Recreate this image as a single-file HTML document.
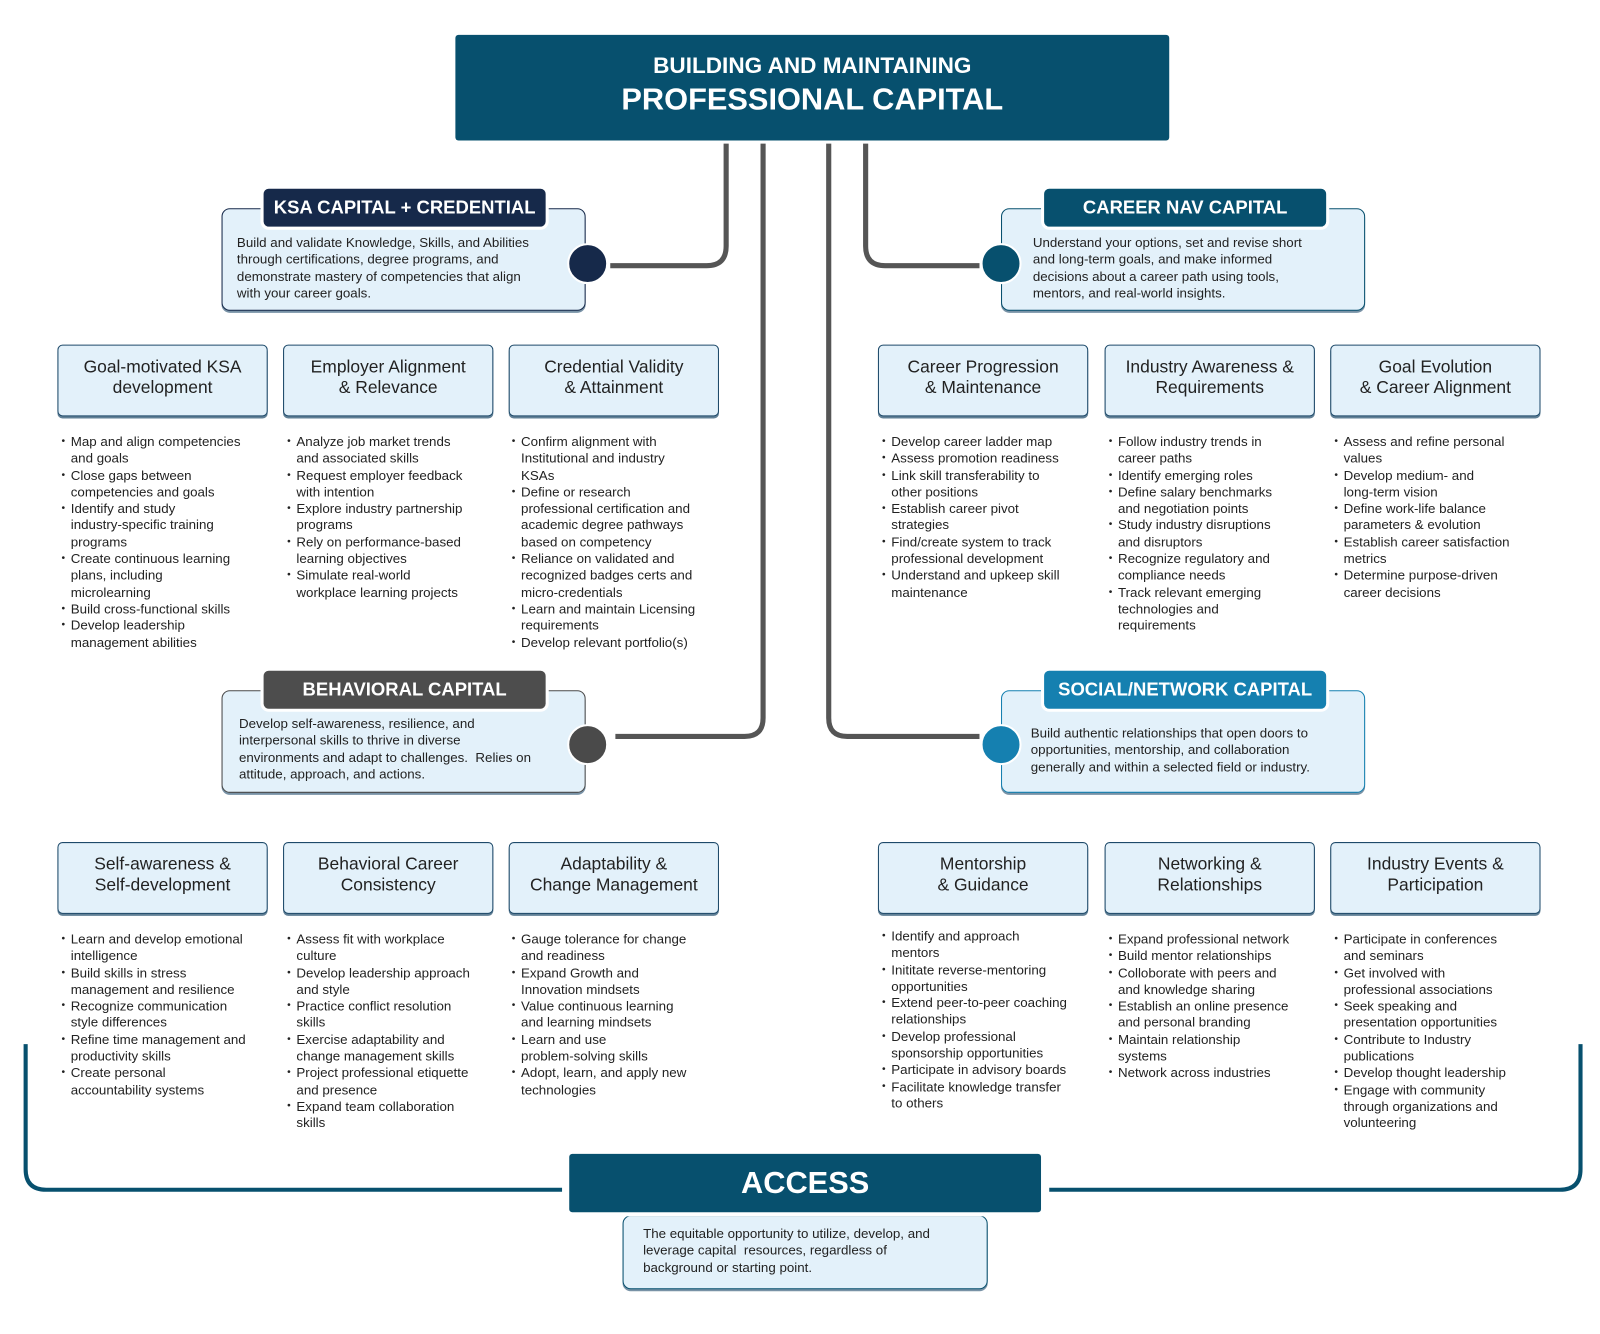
<!DOCTYPE html>
<html><head><meta charset="utf-8"><style>
html,body{margin:0;padding:0;background:#fff;}
body{width:1600px;height:1334px;overflow:hidden;position:relative;}
#s{position:absolute;left:0;top:0;width:1560px;height:1301px;transform:scale(1.02564);transform-origin:0 0;font-family:"Liberation Sans",sans-serif;color:#222;}
.a{position:absolute;}
.title{left:444px;top:34px;width:696px;height:103px;background:#07506e;border-radius:3px;color:#fff;text-align:center;font-weight:bold;}
.card{position:absolute;width:355px;height:100px;background:#e3f1fa;border:1.5px solid #1e4a6a;border-radius:8px;box-shadow:0 2px 0 rgba(30,74,106,.6);box-sizing:border-box;}
.card .t{position:absolute;font-size:13px;line-height:16.3px;white-space:nowrap;color:#222;}
.tab{position:absolute;width:275px;height:37px;border-radius:5px;color:#fff;font-weight:bold;font-size:18px;text-align:center;line-height:37px;box-shadow:0 0 0 3px #fff;}
.dot{position:absolute;width:40px;height:40px;border-radius:50%;border:2px solid #fff;box-sizing:border-box;}
.box{position:absolute;width:205px;height:70px;background:#e3f1fa;border:1.5px solid #1e4a6a;border-radius:5px;box-shadow:0 2px 0 rgba(30,74,106,.7);box-sizing:border-box;text-align:center;font-size:17px;line-height:20px;padding-top:11px;color:#222;}
.ul{position:absolute;font-size:13px;line-height:16.3px;white-space:nowrap;color:#222;}
.li{position:relative;padding-left:9px;}
.li:before{content:"•";position:absolute;left:0;top:0;font-size:10px;}
</style></head><body><div id="s">
<svg class="a" style="left:0;top:0" width="1560" height="1301">
<g fill="none" stroke="#555" stroke-width="5">
<path d="M708 140 V240 Q708 259 689 259 H595"/>
<path d="M744 140 V700 Q744 718 726 718 H600"/>
<path d="M808 140 V700 Q808 718 826 718 H955"/>
<path d="M844 140 V240 Q844 259 863 259 H955"/>
</g>
<g fill="none" stroke="#07506e" stroke-width="4">
<path d="M25 1018 V1140 Q25 1160 45 1160 H548"/>
<path d="M1023 1160 H1521 Q1541 1160 1541 1140 V1018"/>
</g>
</svg>
<div class="a title"><div style="font-size:22px;margin-top:17px;">BUILDING AND MAINTAINING</div><div style="font-size:30px;margin-top:4px;">PROFESSIONAL CAPITAL</div></div>

<div class="card" style="left:216px;top:203px;border-color:#16294a;"><div class="t" style="left:14px;top:25px;">Build and validate Knowledge, Skills, and Abilities<br>through certifications, degree programs, and<br>demonstrate mastery of competencies that align<br>with your career goals.</div></div>
<div class="tab" style="left:257px;top:184px;background:#16294a;">KSA CAPITAL + CREDENTIAL</div>
<div class="dot" style="left:553px;top:237px;background:#16294a;"></div>

<div class="card" style="left:976px;top:203px;border-color:#07506e;"><div class="t" style="left:30px;top:25px;">Understand your options, set and revise short<br>and long-term goals, and make informed<br>decisions about a career path using tools,<br>mentors, and real-world insights.</div></div>
<div class="tab" style="left:1018px;top:184px;background:#07506e;">CAREER NAV CAPITAL</div>
<div class="dot" style="left:956px;top:237px;background:#07506e;"></div>

<div class="card" style="left:216px;top:673px;border-color:#4a4a4a;"><div class="t" style="left:16px;top:24px;">Develop self-awareness, resilience, and<br>interpersonal skills to thrive in diverse<br>environments and adapt to challenges.&nbsp; Relies on<br>attitude, approach, and actions.</div></div>
<div class="tab" style="left:257px;top:654px;background:#4d4d4d;">BEHAVIORAL CAPITAL</div>
<div class="dot" style="left:553px;top:706px;background:#4a4a4a;"></div>

<div class="card" style="left:976px;top:673px;border-color:#1580b0;"><div class="t" style="left:28px;top:33px;">Build authentic relationships that open doors to<br>opportunities, mentorship, and collaboration<br>generally and within a selected field or industry.</div></div>
<div class="tab" style="left:1018px;top:654px;background:#1580b0;">SOCIAL/NETWORK CAPITAL</div>
<div class="dot" style="left:956px;top:706px;background:#1580b0;"></div>

<div class="box" style="left:56px;top:336px;">Goal-motivated KSA<br>development</div>
<div class="box" style="left:276px;top:336px;">Employer Alignment<br>&amp; Relevance</div>
<div class="box" style="left:496px;top:336px;">Credential Validity<br>&amp; Attainment</div>
<div class="box" style="left:856px;top:336px;">Career Progression<br>&amp; Maintenance</div>
<div class="box" style="left:1077px;top:336px;">Industry Awareness &amp;<br>Requirements</div>
<div class="box" style="left:1297px;top:336px;">Goal Evolution<br>&amp; Career Alignment</div>

<div class="box" style="left:56px;top:821px;">Self-awareness &amp;<br>Self-development</div>
<div class="box" style="left:276px;top:821px;">Behavioral Career<br>Consistency</div>
<div class="box" style="left:496px;top:821px;">Adaptability &amp;<br>Change Management</div>
<div class="box" style="left:856px;top:821px;">Mentorship<br>&amp; Guidance</div>
<div class="box" style="left:1077px;top:821px;">Networking &amp;<br>Relationships</div>
<div class="box" style="left:1297px;top:821px;">Industry Events &amp;<br>Participation</div>

<div class="ul" style="left:60px;top:423px;">
<div class="li">Map and align competencies<br>and goals</div>
<div class="li">Close gaps between<br>competencies and goals</div>
<div class="li">Identify and study<br>industry-specific training<br>programs</div>
<div class="li">Create continuous learning<br>plans, including<br>microlearning</div>
<div class="li">Build cross-functional skills</div>
<div class="li">Develop leadership<br>management abilities</div>
</div>
<div class="ul" style="left:280px;top:423px;">
<div class="li">Analyze job market trends<br>and associated skills</div>
<div class="li">Request employer feedback<br>with intention</div>
<div class="li">Explore industry partnership<br>programs</div>
<div class="li">Rely on performance-based<br>learning objectives</div>
<div class="li">Simulate real-world<br>workplace learning projects</div>
</div>
<div class="ul" style="left:499px;top:423px;">
<div class="li">Confirm alignment with<br>Institutional and industry<br>KSAs</div>
<div class="li">Define or research<br>professional certification and<br>academic degree pathways<br>based on competency</div>
<div class="li">Reliance on validated and<br>recognized badges certs and<br>micro-credentials</div>
<div class="li">Learn and maintain Licensing<br>requirements</div>
<div class="li">Develop relevant portfolio(s)</div>
</div>
<div class="ul" style="left:860px;top:423px;">
<div class="li">Develop career ladder map</div>
<div class="li">Assess promotion readiness</div>
<div class="li">Link skill transferability to<br>other positions</div>
<div class="li">Establish career pivot<br>strategies</div>
<div class="li">Find/create system to track<br>professional development</div>
<div class="li">Understand and upkeep skill<br>maintenance</div>
</div>
<div class="ul" style="left:1081px;top:423px;">
<div class="li">Follow industry trends in<br>career paths</div>
<div class="li">Identify emerging roles</div>
<div class="li">Define salary benchmarks<br>and negotiation points</div>
<div class="li">Study industry disruptions<br>and disruptors</div>
<div class="li">Recognize regulatory and<br>compliance needs</div>
<div class="li">Track relevant emerging<br>technologies and<br>requirements</div>
</div>
<div class="ul" style="left:1301px;top:423px;">
<div class="li">Assess and refine personal<br>values</div>
<div class="li">Develop medium- and<br>long-term vision</div>
<div class="li">Define work-life balance<br>parameters &amp; evolution</div>
<div class="li">Establish career satisfaction<br>metrics</div>
<div class="li">Determine purpose-driven<br>career decisions</div>
</div>

<div class="ul" style="left:60px;top:908px;">
<div class="li">Learn and develop emotional<br>intelligence</div>
<div class="li">Build skills in stress<br>management and resilience</div>
<div class="li">Recognize communication<br>style differences</div>
<div class="li">Refine time management and<br>productivity skills</div>
<div class="li">Create personal<br>accountability systems</div>
</div>
<div class="ul" style="left:280px;top:908px;">
<div class="li">Assess fit with workplace<br>culture</div>
<div class="li">Develop leadership approach<br>and style</div>
<div class="li">Practice conflict resolution<br>skills</div>
<div class="li">Exercise adaptability and<br>change management skills</div>
<div class="li">Project professional etiquette<br>and presence</div>
<div class="li">Expand team collaboration<br>skills</div>
</div>
<div class="ul" style="left:499px;top:908px;">
<div class="li">Gauge tolerance for change<br>and readiness</div>
<div class="li">Expand Growth and<br>Innovation mindsets</div>
<div class="li">Value continuous learning<br>and learning mindsets</div>
<div class="li">Learn and use<br>problem-solving skills</div>
<div class="li">Adopt, learn, and apply new<br>technologies</div>
</div>
<div class="ul" style="left:860px;top:905px;">
<div class="li">Identify and approach<br>mentors</div>
<div class="li">Inititate reverse-mentoring<br>opportunities</div>
<div class="li">Extend peer-to-peer coaching<br>relationships</div>
<div class="li">Develop professional<br>sponsorship opportunities</div>
<div class="li">Participate in advisory boards</div>
<div class="li">Facilitate knowledge transfer<br>to others</div>
</div>
<div class="ul" style="left:1081px;top:908px;">
<div class="li">Expand professional network</div>
<div class="li">Build mentor relationships</div>
<div class="li">Colloborate with peers and<br>and knowledge sharing</div>
<div class="li">Establish an online presence<br>and personal branding</div>
<div class="li">Maintain relationship<br>systems</div>
<div class="li">Network across industries</div>
</div>
<div class="ul" style="left:1301px;top:908px;">
<div class="li">Participate in conferences<br>and seminars</div>
<div class="li">Get involved with<br>professional associations</div>
<div class="li">Seek speaking and<br>presentation opportunities</div>
<div class="li">Contribute to Industry<br>publications</div>
<div class="li">Develop thought leadership</div>
<div class="li">Engage with community<br>through organizations and<br>volunteering</div>
</div>

<div class="card" style="left:607px;top:1185px;width:356px;height:72px;border-color:#07506e;"><div class="t" style="left:19px;top:9px;">The equitable opportunity to utilize, develop, and<br>leverage capital&nbsp; resources, regardless of<br>background or starting point.</div></div>
<div class="a" style="left:555px;top:1125px;width:460px;height:57px;background:#07506e;border-radius:3px;color:#fff;font-weight:bold;font-size:30px;text-align:center;line-height:57px;box-shadow:0 0 0 4px #fff;">ACCESS</div>
</div></body></html>
